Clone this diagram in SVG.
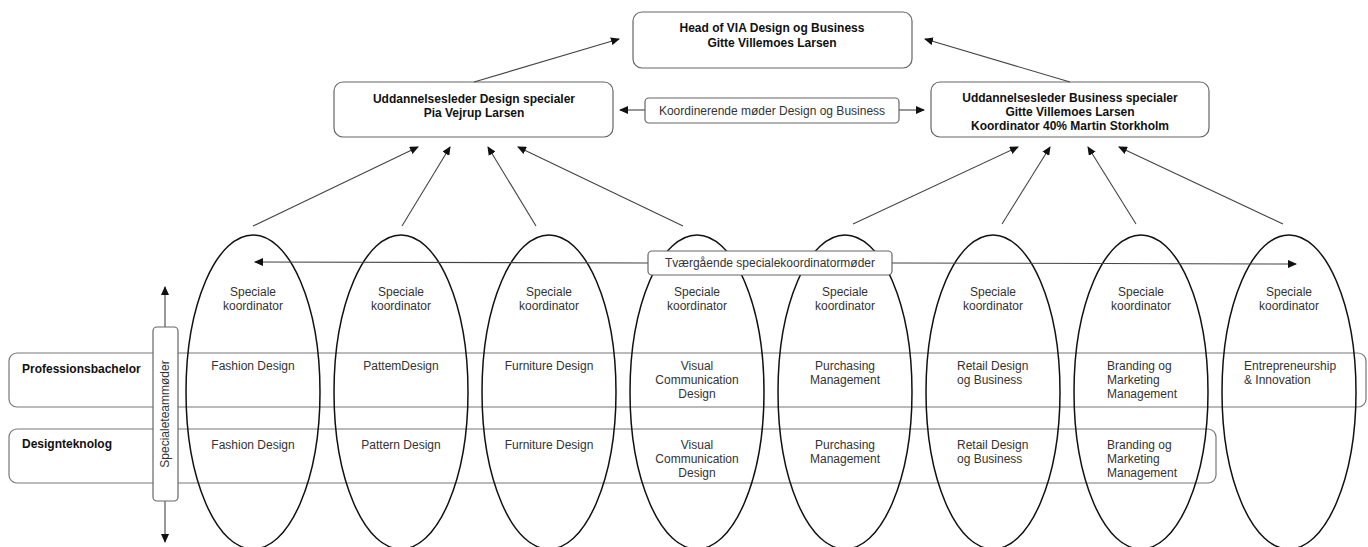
<svg xmlns="http://www.w3.org/2000/svg" width="1368" height="547" viewBox="0 0 1368 547">
<style>
  .box { fill: #fff; stroke: #666; stroke-width: 1.2; }
  .band { fill: none; stroke: #777; stroke-width: 1.2; }
  .ell { fill: none; stroke: #111; stroke-width: 1.5; }
  .con { stroke: #444; stroke-width: 1.1; fill: none; marker-end: url(#ah); }
  text { font-family: "Liberation Sans", Arial, sans-serif; font-size: 12px; fill: #333; }
  .b { font-weight: bold; fill: #111; }
  .m { text-anchor: middle; }
</style>
<defs>
  <marker id="ah" markerWidth="9" markerHeight="8" refX="8" refY="4" orient="auto" markerUnits="userSpaceOnUse">
    <path d="M0,0 L9,4 L0,8 Z" fill="#111"/>
  </marker>
</defs>
<rect width="1368" height="547" fill="#fff"/>

<g id="bands">
  <rect class="band" x="9" y="353" width="1357" height="54" rx="8"/>
  <rect class="band" x="9" y="429" width="1207" height="54" rx="8"/>
  <text class="b" x="22" y="373">Professionsbachelor</text>
  <text class="b" x="22" y="448">Designteknolog</text>
</g>

<g id="head">
  <rect class="box" x="633" y="12" width="279" height="56" rx="9"/>
  <text class="b m" x="772" y="32">Head of VIA Design og Business</text>
  <text class="b m" x="772" y="47">Gitte Villemoes Larsen</text>
</g>
<g id="design-leader">
  <rect class="box" x="334" y="82" width="279" height="55" rx="9"/>
  <text class="b m" x="474" y="103">Uddannelsesleder Design specialer</text>
  <text class="b m" x="474" y="117">Pia Vejrup Larsen</text>
</g>
<g id="business-leader">
  <rect class="box" x="931" y="82" width="278" height="55" rx="9"/>
  <text class="b m" x="1070" y="102">Uddannelsesleder Business specialer</text>
  <text class="b m" x="1070" y="116">Gitte Villemoes Larsen</text>
  <text class="b m" x="1070" y="130">Koordinator 40% Martin Storkholm</text>
</g>

<g id="ellipses">
  <g id="e1"><ellipse class="ell" cx="253" cy="392" rx="67" ry="157"/>
    <text class="m" x="253" y="296">Speciale</text><text class="m" x="253" y="310">koordinator</text>
    <text class="m" x="253" y="370">Fashion Design</text>
    <text class="m" x="253" y="449">Fashion Design</text></g>
  <g id="e2"><ellipse class="ell" cx="401" cy="392" rx="67" ry="157"/>
    <text class="m" x="401" y="296">Speciale</text><text class="m" x="401" y="310">koordinator</text>
    <text class="m" x="401" y="370">PattemDesign</text>
    <text class="m" x="401" y="449">Pattern Design</text></g>
  <g id="e3"><ellipse class="ell" cx="549" cy="392" rx="67" ry="157"/>
    <text class="m" x="549" y="296">Speciale</text><text class="m" x="549" y="310">koordinator</text>
    <text class="m" x="549" y="370">Furniture Design</text>
    <text class="m" x="549" y="449">Furniture Design</text></g>
  <g id="e4"><ellipse class="ell" cx="697" cy="392" rx="67" ry="157"/>
    <text class="m" x="697" y="296">Speciale</text><text class="m" x="697" y="310">koordinator</text>
    <text class="m" x="697" y="370">Visual</text><text class="m" x="697" y="384">Communication</text><text class="m" x="697" y="398">Design</text>
    <text class="m" x="697" y="449">Visual</text><text class="m" x="697" y="463">Communication</text><text class="m" x="697" y="477">Design</text></g>
  <g id="e5"><ellipse class="ell" cx="845" cy="392" rx="67" ry="157"/>
    <text class="m" x="845" y="296">Speciale</text><text class="m" x="845" y="310">koordinator</text>
    <text class="m" x="845" y="370">Purchasing</text><text class="m" x="845" y="384">Management</text>
    <text class="m" x="845" y="449">Purchasing</text><text class="m" x="845" y="463">Management</text></g>
  <g id="e6"><ellipse class="ell" cx="993" cy="392" rx="67" ry="157"/>
    <text class="m" x="993" y="296">Speciale</text><text class="m" x="993" y="310">koordinator</text>
    <text x="957" y="370">Retail Design</text><text x="957" y="384">og Business</text>
    <text x="957" y="449">Retail Design</text><text x="957" y="463">og Business</text></g>
  <g id="e7"><ellipse class="ell" cx="1141" cy="392" rx="67" ry="157"/>
    <text class="m" x="1141" y="296">Speciale</text><text class="m" x="1141" y="310">koordinator</text>
    <text x="1107" y="370">Branding og</text><text x="1107" y="384">Marketing</text><text x="1107" y="398">Management</text>
    <text x="1107" y="449">Branding og</text><text x="1107" y="463">Marketing</text><text x="1107" y="477">Management</text></g>
  <g id="e8"><ellipse class="ell" cx="1289" cy="392" rx="67" ry="157"/>
    <text class="m" x="1289" y="296">Speciale</text><text class="m" x="1289" y="310">koordinator</text>
    <text x="1244" y="370">Entrepreneurship</text><text x="1244" y="384">&amp; Innovation</text></g>
</g>

<g id="connectors">
  <line class="con" x1="474" y1="82" x2="619" y2="39"/>
  <line class="con" x1="1070" y1="82" x2="925" y2="39"/>
  <line class="con" x1="645" y1="110" x2="620" y2="110"/>
  <line class="con" x1="899" y1="110" x2="924" y2="110"/>
  <line class="con" x1="253" y1="226" x2="418" y2="147"/>
  <line class="con" x1="402" y1="226" x2="450" y2="147"/>
  <line class="con" x1="536" y1="226" x2="488" y2="147"/>
  <line class="con" x1="683" y1="226" x2="518" y2="147"/>
  <line class="con" x1="853" y1="224" x2="1018" y2="147"/>
  <line class="con" x1="1002" y1="224" x2="1050" y2="147"/>
  <line class="con" x1="1136" y1="224" x2="1088" y2="147"/>
  <line class="con" x1="1283" y1="224" x2="1119" y2="147"/>
  <line class="con" x1="648" y1="263" x2="255" y2="262"/>
  <line class="con" x1="892" y1="263" x2="1296" y2="264"/>
  <line class="con" x1="165" y1="327" x2="165" y2="287"/>
  <line class="con" x1="165" y1="501" x2="165" y2="542"/>
</g>

<g id="koordinerende">
  <rect class="box" x="645" y="98" width="254" height="25" rx="4"/>
  <text class="m" x="772" y="115">Koordinerende møder Design og Business</text>
</g>
<g id="tvaergaaende">
  <rect class="box" x="648" y="251" width="244" height="24" rx="4"/>
  <text class="m" x="770" y="267">Tværgående specialekoordinatormøder</text>
</g>
<g id="specialeteam">
  <rect class="box" x="153" y="327" width="25" height="174" rx="4"/>
  <text class="m" transform="translate(169 414) rotate(-90)">Specialeteammøder</text>
</g>
</svg>
